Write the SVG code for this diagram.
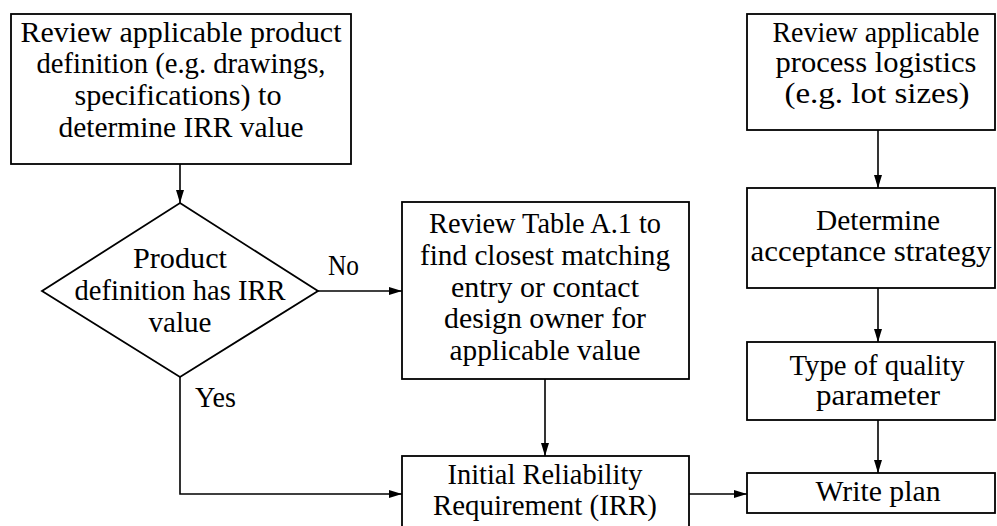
<svg xmlns="http://www.w3.org/2000/svg" width="997" height="526" viewBox="0 0 997 526">
<style>
  .box { fill: #ffffff; stroke: #000000; stroke-width: 1.8; }
  .conn { fill: none; stroke: #000000; stroke-width: 1.6; }
  text { font-family: "Liberation Serif", "Times New Roman", serif; font-size: 28.5px; fill: #000000; text-anchor: middle; }
  .lbl { text-anchor: start; }
</style>
<defs>
  <marker id="arrow" markerWidth="13" markerHeight="8" refX="13" refY="4" orient="auto" markerUnits="userSpaceOnUse">
    <path d="M0,0 L13,4 L0,8 Z" fill="#000000"/>
  </marker>
</defs>
<rect width="997" height="526" fill="#ffffff"/>

<g id="connectors">
  <path class="conn" d="M180,164 V203" marker-end="url(#arrow)"/>
  <path class="conn" d="M318,291 H402" marker-end="url(#arrow)"/>
  <path class="conn" d="M180,377 V494 H402" marker-end="url(#arrow)"/>
  <path class="conn" d="M545,379 V456" marker-end="url(#arrow)"/>
  <path class="conn" d="M689,494 H747" marker-end="url(#arrow)"/>
  <path class="conn" d="M878,130 V188" marker-end="url(#arrow)"/>
  <path class="conn" d="M878,288 V342" marker-end="url(#arrow)"/>
  <path class="conn" d="M878,420 V473" marker-end="url(#arrow)"/>
  <text class="lbl" x="328" y="275" textLength="31" lengthAdjust="spacingAndGlyphs">No</text>
  <text class="lbl" x="195" y="407" textLength="41" lengthAdjust="spacingAndGlyphs">Yes</text>
</g>

<g id="review-product">
  <rect class="box" x="11" y="14" width="340" height="150"/>
  <text x="181" y="42" textLength="321" lengthAdjust="spacingAndGlyphs">Review applicable product</text>
  <text x="181" y="73" textLength="289" lengthAdjust="spacingAndGlyphs">definition (e.g. drawings,</text>
  <text x="178" y="105" textLength="207" lengthAdjust="spacingAndGlyphs">specifications) to</text>
  <text x="181" y="137" textLength="245" lengthAdjust="spacingAndGlyphs">determine IRR value</text>
</g>

<g id="decision">
  <polygon class="box" points="180,203 318,291 180,377 42,291"/>
  <text x="180" y="268" textLength="94" lengthAdjust="spacingAndGlyphs">Product</text>
  <text x="180" y="300" textLength="211" lengthAdjust="spacingAndGlyphs">definition has IRR</text>
  <text x="180" y="332" textLength="63" lengthAdjust="spacingAndGlyphs">value</text>
</g>

<g id="review-table">
  <rect class="box" x="402" y="202" width="287" height="177"/>
  <text x="545" y="233" textLength="232" lengthAdjust="spacingAndGlyphs">Review Table A.1 to</text>
  <text x="545" y="265" textLength="250" lengthAdjust="spacingAndGlyphs">find closest matching</text>
  <text x="545" y="297" textLength="188" lengthAdjust="spacingAndGlyphs">entry or contact</text>
  <text x="545" y="328" textLength="202" lengthAdjust="spacingAndGlyphs">design owner for</text>
  <text x="545" y="360" textLength="191" lengthAdjust="spacingAndGlyphs">applicable value</text>
</g>

<g id="irr">
  <rect class="box" x="402" y="456" width="287" height="80"/>
  <text x="545" y="484" textLength="195" lengthAdjust="spacingAndGlyphs">Initial Reliability</text>
  <text x="545" y="515" textLength="224" lengthAdjust="spacingAndGlyphs">Requirement (IRR)</text>
</g>

<g id="review-logistics">
  <rect class="box" x="747" y="14" width="248" height="116"/>
  <text x="876" y="42" textLength="207" lengthAdjust="spacingAndGlyphs">Review applicable</text>
  <text x="876" y="72" textLength="201" lengthAdjust="spacingAndGlyphs">process logistics</text>
  <text x="877" y="103" textLength="185" lengthAdjust="spacingAndGlyphs">(e.g. lot sizes)</text>
</g>

<g id="acceptance">
  <rect class="box" x="747" y="188" width="248" height="100"/>
  <text x="878" y="230" textLength="124" lengthAdjust="spacingAndGlyphs">Determine</text>
  <text x="871" y="261" textLength="241" lengthAdjust="spacingAndGlyphs">acceptance strategy</text>
</g>

<g id="quality">
  <rect class="box" x="747" y="342" width="248" height="78"/>
  <text x="877" y="375" textLength="175" lengthAdjust="spacingAndGlyphs">Type of quality</text>
  <text x="878" y="405" textLength="124" lengthAdjust="spacingAndGlyphs">parameter</text>
</g>

<g id="write-plan">
  <rect class="box" x="747" y="473" width="248" height="40"/>
  <text x="878" y="501" textLength="125" lengthAdjust="spacingAndGlyphs">Write plan</text>
</g>
</svg>
